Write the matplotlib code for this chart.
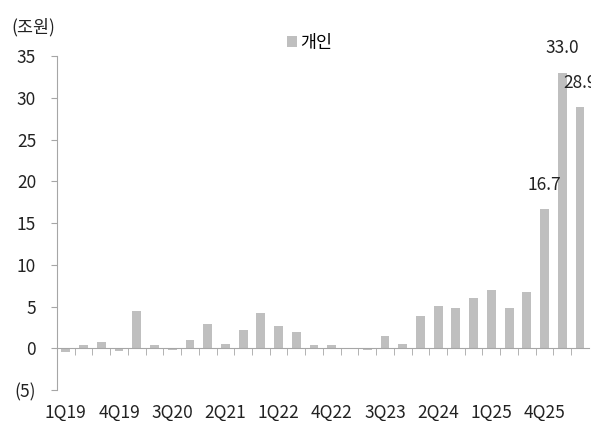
import matplotlib
matplotlib.use("Agg")
import matplotlib.pyplot as plt
import numpy as np

plt.rcParams['font.family'] = ['Noto Sans CJK KR', 'DejaVu Sans']
plt.rcParams['font.weight'] = 'light'

quarters = ["1Q19", "2Q19", "3Q19", "4Q19", "1Q20", "2Q20", "3Q20", "4Q20",
            "1Q21", "2Q21", "3Q21", "4Q21", "1Q22", "2Q22", "3Q22", "4Q22",
            "1Q23", "2Q23", "3Q23", "4Q23", "1Q24", "2Q24", "3Q24", "4Q24",
            "1Q25", "2Q25", "3Q25", "4Q25", "1Q26", "2Q26"]
individual = [-0.4, 0.4, 0.7, -0.3, 4.5, 0.4, -0.2, 1.0,
              2.9, 0.5, 2.2, 4.2, 2.65, 1.9, 0.4, 0.4,
              0.05, -0.2, 1.5, 0.5, 3.9, 5.1, 4.8, 6.0,
              7.0, 4.8, 6.7, 16.7, 33.0, 28.9]
label_every = 3
annotated = {"4Q25": 16.7, "1Q26": 33.0, "2Q26": 28.9}
yticks = [-5, 0, 5, 10, 15, 20, 25, 30, 35]
yticklabels = ["(5)", "0", "5", "10", "15", "20", "25", "30", "35"]

bar_color = "#BFBFBF"
axis_color = "#A6A6A6"
text_color = "#222222"
fs = 12.5

fig = plt.figure(figsize=(5.91, 4.21), dpi=100)
ax = fig.add_axes([0.0964, 0.0736, 0.9, 0.7933])

x = np.arange(len(quarters))
ax.bar(x, individual, width=0.5, color=bar_color, label="개인", zorder=2)

ax.set_xlim(-0.5, len(quarters) - 0.5)
ax.set_ylim(-5, 35)
ax.set_yticks(yticks)
ax.set_yticklabels(yticklabels, fontsize=fs, color=text_color)

for s in ["top", "right"]:
    ax.spines[s].set_visible(False)
ax.spines["left"].set_color(axis_color)
ax.spines["bottom"].set_color(axis_color)
ax.spines["bottom"].set_position(("data", 0))

ax.tick_params(axis="y", direction="out", length=4, color=axis_color, pad=11)
ax.set_xticks([])
ax.set_xticks(np.arange(len(quarters) - 1) + 0.5, minor=True)
ax.tick_params(axis="x", which="minor", direction="out", length=5, color=axis_color)
ax.tick_params(axis="x", which="major", length=0)

for i, q in enumerate(quarters):
    if i % label_every == 0:
        ax.annotate(q, xy=(i, 0), xycoords=("data", "axes fraction"),
                    xytext=(0, -10), textcoords="offset points",
                    ha="center", va="top", fontsize=fs, color=text_color)

for i, q in enumerate(quarters):
    if q in annotated:
        ax.annotate(f"{annotated[q]:.1f}", xy=(i, individual[i]),
                    xytext=(0, 11), textcoords="offset points",
                    ha="center", va="bottom", fontsize=fs, color=text_color,
                    annotation_clip=False)

leg = ax.legend(loc="center", bbox_to_anchor=(0.475, 1.04), frameon=False,
                handlelength=0.6, handleheight=0.6, handletextpad=0.2,
                fontsize=fs, borderaxespad=0)

fig.text(0.057, 0.935, "(조원)", ha="center", va="center", fontsize=fs, color=text_color)

fig.savefig("out.png", dpi=100)
